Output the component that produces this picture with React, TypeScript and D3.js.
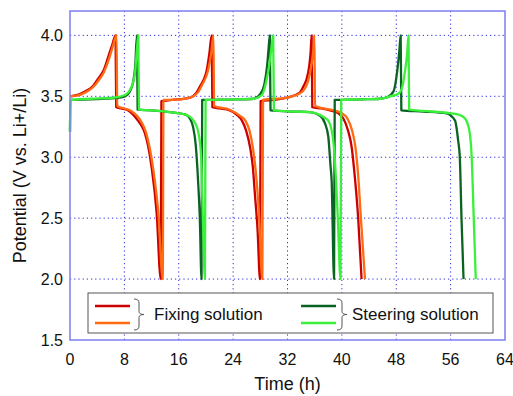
import React from "react";
import * as d3 from "d3";

// time (h) / potential (V) pairs
const fixingRed: [number, number][] = [
  [0, 3.5], [1, 3.51], [2.2, 3.54], [3.3, 3.58], [4.2, 3.65], [5, 3.72], [5.6, 3.82], [6.2, 3.92], [6.7, 4.0],
  [6.8, 3.41], [7.5, 3.4], [8.5, 3.385], [9.1, 3.36], [10, 3.3], [10.6, 3.25], [11, 3.2], [12, 2.92], [12.75, 2.54], [13.35, 2.0],
  [13.45, 3.46], [15, 3.47], [17.7, 3.49], [18.6, 3.53], [19.1, 3.58], [19.7, 3.64], [20.1, 3.71], [20.5, 3.85], [20.85, 4.0],
  [20.95, 3.41], [22, 3.4], [23.5, 3.385], [24.5, 3.35], [25.3, 3.3], [25.9, 3.22], [26.5, 3.08], [26.9, 2.92], [27.2, 2.7], [27.6, 2.4], [27.95, 2.0],
  [28.05, 3.46], [30, 3.47], [32, 3.49], [33.8, 3.53], [34.5, 3.6], [34.8, 3.64], [35.2, 3.75], [35.4, 3.86], [35.55, 4.0],
  [35.65, 3.41], [37, 3.4], [38.25, 3.385], [39.5, 3.36], [40.2, 3.32], [40.9, 3.22], [41.45, 3.08], [41.8, 2.9], [42.4, 2.5], [42.9, 2.0],
];

const fixingOrange: [number, number][] = [
  [0, 3.5], [1, 3.505], [2.2, 3.53], [3.3, 3.57], [4.2, 3.63], [5, 3.7], [5.7, 3.8], [6.3, 3.91], [6.85, 4.0],
  [6.95, 3.42], [8, 3.4], [9, 3.38], [10, 3.33], [10.5, 3.29], [11.2, 3.2], [12.2, 2.92], [13, 2.54], [13.65, 2.0],
  [13.75, 3.47], [15, 3.47], [17.7, 3.49], [18.8, 3.53], [19.4, 3.59], [20.3, 3.71], [20.8, 3.86], [21.1, 4.0],
  [21.2, 3.42], [23.5, 3.39], [25, 3.34], [25.8, 3.3], [26.4, 3.22], [26.9, 3.08], [27.3, 2.9], [27.8, 2.54], [28.3, 2.0],
  [28.4, 3.47], [32, 3.49], [34, 3.53], [35, 3.62], [35.5, 3.75], [35.8, 3.88], [35.95, 4.0],
  [36.05, 3.42], [38.3, 3.39], [40, 3.36], [40.8, 3.32], [41.5, 3.22], [42, 3.08], [42.4, 2.85], [42.8, 2.5], [43.4, 2.0],
];

const steeringDark: [number, number][] = [
  [0, 3.21], [0.05, 3.47], [3, 3.475], [6.6, 3.485], [8.1, 3.5], [8.8, 3.54], [9.3, 3.62], [9.6, 3.75], [9.85, 4.0],
  [9.95, 3.39], [12, 3.385], [14.7, 3.37], [17, 3.35], [17.6, 3.32], [18.1, 3.25], [18.5, 3.1], [18.85, 2.8], [19.1, 2.5], [19.35, 2.0],
  [19.45, 3.47], [24.5, 3.475], [27, 3.48], [28, 3.52], [28.6, 3.6], [29.0, 3.75], [29.2, 3.88], [29.4, 4.0],
  [29.5, 3.385], [33, 3.375], [35.3, 3.37], [36.8, 3.34], [37.5, 3.28], [38, 3.17], [38.3, 2.95], [38.5, 2.8], [38.85, 2.0],
  [38.95, 3.47], [43, 3.475], [45.6, 3.48], [46.6, 3.49], [47.6, 3.54], [48.15, 3.71], [48.45, 3.87], [48.65, 4.0],
  [48.75, 3.385], [52, 3.375], [55.4, 3.36], [56.65, 3.3], [57.1, 3.14], [57.35, 3.0], [57.6, 2.5], [57.9, 2.0],
];

const steeringLight: [number, number][] = [
  [0, 3.21], [0.05, 3.47], [3, 3.48], [6.6, 3.49], [8.1, 3.51], [8.8, 3.55], [9.2, 3.6], [9.6, 3.71], [9.8, 3.85], [10.05, 4.0],
  [10.15, 3.39], [12, 3.385], [14.7, 3.37], [17.2, 3.345], [17.9, 3.32], [18.4, 3.28], [18.9, 3.2], [19.3, 3.0], [19.55, 2.5], [19.85, 2.0],
  [19.95, 3.47], [24.5, 3.475], [27, 3.48], [28.2, 3.51], [28.6, 3.56], [28.9, 3.63], [29.3, 3.75], [29.6, 3.88], [29.9, 4.0],
  [30.0, 3.385], [33, 3.375], [35.3, 3.37], [37.3, 3.33], [38.0, 3.3], [38.5, 3.22], [38.8, 3.1], [39.15, 2.8], [39.4, 2.5], [39.8, 2.0],
  [39.9, 3.47], [43, 3.475], [45.6, 3.48], [47.1, 3.5], [48.3, 3.52], [48.8, 3.56], [49.3, 3.71], [49.6, 3.85], [49.8, 4.0],
  [49.9, 3.39], [52, 3.38], [55.4, 3.365], [57.2, 3.35], [58.1, 3.32], [58.75, 3.22], [59.1, 3.0], [59.4, 2.5], [59.7, 2.0],
];

const xTicks = [0, 8, 16, 24, 32, 40, 48, 56, 64];
const yTicks = [1.5, 2.0, 2.5, 3.0, 3.5, 4.0];

const series = [
  { name: "fixRed", data: fixingRed, color: "#cc0000" },
  { name: "fixOrange", data: fixingOrange, color: "#ff6a12" },
  { name: "steerDark", data: steeringDark, color: "#0b6323" },
  { name: "steerLight", data: steeringLight, color: "#3af03a" },
];

const W = 513;
const H = 396;
const margin = { top: 11, right: 8, bottom: 56, left: 70 };
const font = "'Liberation Sans', Arial, sans-serif";

// curly brace opening to the left, tip pointing right
const bracePath = (x: number, y0: number, y1: number, w: number) => {
  const ym = (y0 + y1) / 2;
  return `M${x},${y0} Q${x + w / 2},${y0} ${x + w / 2},${y0 + 4} L${x + w / 2},${ym - 3} Q${x + w / 2},${ym} ${x + w},${ym} Q${x + w / 2},${ym} ${x + w / 2},${ym + 3} L${x + w / 2},${y1 - 4} Q${x + w / 2},${y1} ${x},${y1}`;
};

export default function App() {
  const innerW = W - margin.left - margin.right;
  const innerH = H - margin.top - margin.bottom;

  const x = d3.scaleLinear().domain([0, 64]).range([0, innerW]);
  const y = d3.scaleLinear().domain([1.5, 4.2]).range([innerH, 0]);

  const line = d3
    .line<[number, number]>()
    .x((d) => x(d[0]))
    .y((d) => y(d[1]))
    .curve(d3.curveMonotoneX);

  const gridColor = "#2a2ae0";
  const frameColor = "#7d7df0";

  return (
    <svg width={W} height={H} style={{ position: "absolute", left: 0, top: 0, background: "#fff" }}>
      <g transform={`translate(${margin.left},${margin.top})`}>
        {/* grid */}
        {xTicks.slice(1, -1).map((t) => (
          <line key={"gx" + t} x1={x(t)} x2={x(t)} y1={0} y2={innerH} stroke={gridColor} strokeWidth={1} strokeDasharray="1.2,3" />
        ))}
        {yTicks.slice(1).map((t) => (
          <line key={"gy" + t} x1={0} x2={innerW} y1={y(t)} y2={y(t)} stroke={gridColor} strokeWidth={1} strokeDasharray="1.2,3" />
        ))}

        {/* curves */}
        {series.map((s) => (
          <path key={s.name} d={line(s.data) ?? ""} fill="none" stroke={s.color} strokeWidth={2.3} strokeLinejoin="round" />
        ))}

        {/* frame */}
        <rect x={0} y={0} width={innerW} height={innerH} fill="none" stroke={frameColor} strokeWidth={1.5} />

        {/* tick labels */}
        {xTicks.map((t) => (
          <text key={"xt" + t} x={x(t)} y={innerH + 25} textAnchor="middle" fontFamily={font} fontSize={16} fill="#111">
            {t}
          </text>
        ))}
        {yTicks.map((t) => (
          <text key={"yt" + t} x={-7} y={y(t) + 6} textAnchor="end" fontFamily={font} fontSize={16} fill="#111">
            {t.toFixed(1)}
          </text>
        ))}

        {/* legend */}
        <g>
          <rect x={18} y={282} width={405} height={40} fill="#fff" stroke="#555" strokeWidth={1} />
          <line x1={25} x2={60} y1={295} y2={295} stroke={series[0].color} strokeWidth={2.3} />
          <line x1={25} x2={60} y1={312} y2={312} stroke={series[1].color} strokeWidth={2.3} />
          <path d={bracePath(64, 288, 319, 10)} fill="none" stroke="#555" strokeWidth={1} />
          <text x={84} y={309} fontFamily={font} fontSize={17} fill="#111">Fixing solution</text>
          <line x1={231} x2={266} y1={295} y2={295} stroke={series[2].color} strokeWidth={2.3} />
          <line x1={231} x2={266} y1={312} y2={312} stroke={series[3].color} strokeWidth={2.3} />
          <path d={bracePath(267, 288, 319, 10)} fill="none" stroke="#555" strokeWidth={1} />
          <text x={282} y={309} fontFamily={font} fontSize={17} fill="#111">Steering solution</text>
        </g>
      </g>

      {/* axis titles */}
      <text x={margin.left + innerW / 2} y={390} textAnchor="middle" fontFamily={font} fontSize={18} fill="#111">
        Time (h)
      </text>
      <text
        transform={`translate(26,${margin.top + innerH / 2}) rotate(-90)`}
        textAnchor="middle"
        fontFamily={font}
        fontSize={18}
        fill="#111"
      >
        Potential (V vs. Li+/Li)
      </text>
    </svg>
  );
}
